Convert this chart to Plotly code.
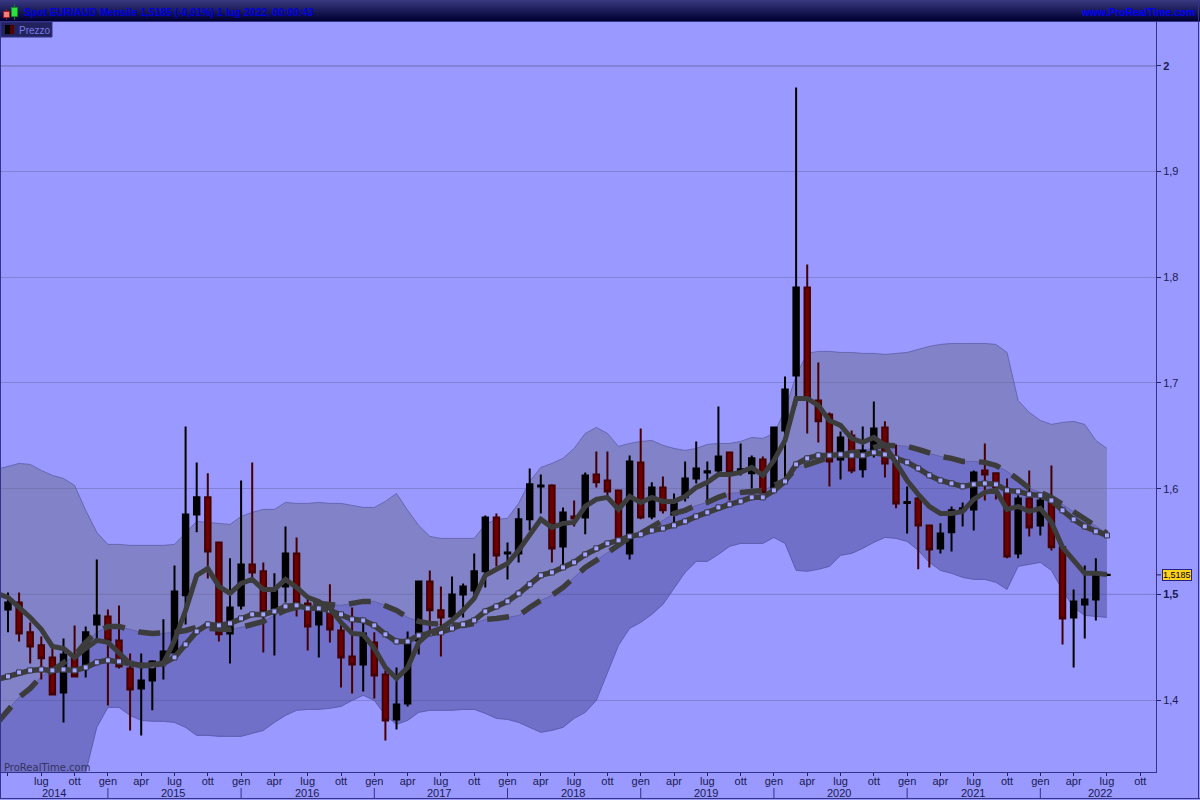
import plotly.graph_objects as go

months = list(range(100))          # 0 = apr 2014 ... 99 = lug 2022
line_months = list(range(-1, 100)) # includes mar 2014 so the lines enter from the left edge

opens = [1.4858,1.4924,1.4641,1.4518,1.4404,1.4073,1.4404,1.4328,1.4716,1.4792,
1.4565,1.4300,1.4111,1.4186,1.4366,1.4451,1.4991,1.5757,1.5918,1.5492,
1.4631,1.4896,1.5284,1.5218,1.4868,1.5076,1.5388,1.4915,1.4716,1.4868,
1.4659,1.4413,1.4338,1.4546,1.4243,1.3817,1.3969,1.4565,1.5123,1.4849,
1.4792,1.5000,1.5038,1.5218,1.5728,1.5388,1.5388,1.5710,1.6022,1.6031,
1.5454,1.5738,1.5728,1.6135,1.6078,1.5984,1.5388,1.6249,1.5738,1.6012,
1.5757,1.5918,1.6097,1.6154,1.6173,1.6343,1.6164,1.6145,1.6277,1.6012,
1.6551,1.7072,1.7904,1.6835,1.6703,1.6277,1.6504,1.6183,1.6362,1.6580,
1.6239,1.5865,1.5908,1.5653,1.5435,1.5587,1.5795,1.5804,1.6173,1.6145,
1.5984,1.5388,1.5908,1.5653,1.5870,1.5445,1.4782,1.4905,1.4953,1.5184]
highs = [1.5019,1.5019,1.4735,1.4603,1.4489,1.4584,1.4707,1.4697,1.5331,1.4858,
1.4896,1.4442,1.4442,1.4376,1.4764,1.5274,1.6589,1.6249,1.6145,1.5501,
1.5341,1.6078,1.6249,1.5303,1.5199,1.5643,1.5539,1.4972,1.4877,1.5095,
1.4726,1.4877,1.4726,1.4641,1.4281,1.4309,1.4650,1.5132,1.5227,1.5076,
1.5170,1.5104,1.5388,1.5747,1.5766,1.5492,1.5814,1.6192,1.6135,1.6041,
1.5823,1.5889,1.6154,1.6353,1.6353,1.5984,1.6315,1.6570,1.6060,1.6116,
1.5955,1.6258,1.6447,1.6258,1.6778,1.6353,1.6428,1.6315,1.6305,1.6589,
1.7062,1.9796,1.8122,1.7195,1.6722,1.6542,1.6551,1.6589,1.6826,1.6637,
1.6419,1.6022,1.5937,1.5662,1.5672,1.5832,1.5870,1.6173,1.6428,1.6154,
1.6097,1.5937,1.6173,1.5918,1.6220,1.5454,1.5047,1.5274,1.5341,1.5186]
lows = [1.4641,1.4555,1.4347,1.4196,1.4045,1.3789,1.4215,1.4215,1.4565,1.3950,
1.4300,1.3713,1.3666,1.3903,1.4196,1.4442,1.4716,1.5587,1.5151,1.4555,
1.4347,1.4858,1.5132,1.4451,1.4423,1.4924,1.4792,1.4470,1.4404,1.4546,
1.4120,1.4063,1.4082,1.4016,1.3619,1.3723,1.3940,1.4432,1.4641,1.4413,
1.4726,1.4782,1.4953,1.5066,1.5265,1.5142,1.5303,1.5605,1.5766,1.5303,
1.5274,1.5643,1.5568,1.6012,1.5937,1.5501,1.5331,1.5710,1.5710,1.5766,
1.5681,1.5880,1.6050,1.5889,1.6145,1.5889,1.6126,1.6003,1.5955,1.5984,
1.6050,1.6788,1.6523,1.6438,1.6022,1.6088,1.6145,1.6107,1.6296,1.6107,
1.5814,1.5577,1.5237,1.5255,1.5388,1.5407,1.5643,1.5605,1.5889,1.5899,
1.5341,1.5341,1.5549,1.5558,1.5416,1.4527,1.4309,1.4584,1.4754,1.5184]
closes = [1.4924,1.4631,1.4508,1.4395,1.4054,1.4432,1.4224,1.4641,1.4801,1.4565,
1.4319,1.4101,1.4186,1.4366,1.4461,1.5028,1.5757,1.5918,1.5407,1.4622,
1.4877,1.5284,1.5208,1.4839,1.5038,1.5388,1.4915,1.4697,1.4868,1.4669,
1.4404,1.4338,1.4631,1.4234,1.3808,1.3959,1.4565,1.5123,1.4849,1.4782,
1.5000,1.5076,1.5218,1.5728,1.5369,1.5397,1.5710,1.6041,1.6031,1.5435,
1.5776,1.5719,1.6126,1.6060,1.5974,1.5511,1.6258,1.5728,1.6012,1.5795,
1.5861,1.6097,1.6192,1.6164,1.6305,1.6154,1.6183,1.6287,1.5965,1.6580,
1.6939,1.7904,1.6854,1.6637,1.6258,1.6485,1.6173,1.6362,1.6570,1.6239,
1.5861,1.5875,1.5653,1.5426,1.5577,1.5795,1.5814,1.6154,1.6135,1.6012,
1.5359,1.5908,1.5634,1.5889,1.5445,1.4773,1.4934,1.4953,1.5180,1.5185]

ma_short = [1.5009,1.4972,1.4877,1.4782,1.4669,1.4508,1.4489,1.4404,1.4489,1.4565,1.4546,
1.4442,1.4347,1.4328,1.4338,1.4347,1.4565,1.4849,1.5180,1.5246,1.5076,
1.5009,1.5104,1.5142,1.5047,1.5047,1.5142,1.5066,1.4972,1.4934,1.4868,
1.4735,1.4631,1.4622,1.4489,1.4309,1.4205,1.4309,1.4546,1.4641,1.4678,
1.4754,1.4849,1.4962,1.5180,1.5237,1.5293,1.5416,1.5558,1.5710,1.5634,
1.5672,1.5681,1.5832,1.5899,1.5918,1.5804,1.5927,1.5870,1.5918,1.5880,
1.5880,1.5927,1.6012,1.6060,1.6135,1.6135,1.6154,1.6201,1.6126,1.6268,
1.6457,1.6854,1.6854,1.6788,1.6646,1.6599,1.6476,1.6438,1.6485,1.6410,
1.6249,1.6078,1.5946,1.5832,1.5766,1.5766,1.5785,1.5899,1.5965,1.5984,
1.5804,1.5832,1.5785,1.5814,1.5681,1.5445,1.5322,1.5199,1.5199,1.5189]
ma_squares = [1.4196,1.4224,1.4262,1.4281,1.4290,1.4281,1.4290,1.4281,1.4309,1.4357,1.4376,
1.4366,1.4347,1.4328,1.4328,1.4347,1.4404,1.4527,1.4650,1.4716,1.4707,
1.4726,1.4773,1.4811,1.4811,1.4839,1.4886,1.4896,1.4868,1.4868,1.4849,
1.4811,1.4764,1.4754,1.4707,1.4622,1.4555,1.4555,1.4612,1.4631,1.4641,
1.4678,1.4716,1.4754,1.4839,1.4886,1.4934,1.5009,1.5095,1.5180,1.5208,
1.5255,1.5303,1.5378,1.5435,1.5482,1.5511,1.5549,1.5568,1.5605,1.5624,
1.5653,1.5691,1.5738,1.5776,1.5823,1.5851,1.5880,1.5918,1.5918,1.5984,
1.6069,1.6230,1.6287,1.6315,1.6315,1.6324,1.6315,1.6315,1.6343,1.6324,
1.6287,1.6249,1.6192,1.6126,1.6078,1.6050,1.6022,1.6041,1.6050,1.6041,
1.5984,1.5974,1.5946,1.5937,1.5889,1.5795,1.5710,1.5643,1.5596,1.5558]
ma_mid = [1.3780,1.3912,1.4026,1.4111,1.4224,1.4281,1.4347,1.4423,1.4546,1.4641,1.4697,
1.4697,1.4669,1.4641,1.4631,1.4631,1.4641,1.4659,1.4688,1.4678,1.4669,
1.4669,1.4688,1.4716,1.4745,1.4801,1.4849,1.4877,1.4896,1.4915,1.4905,
1.4896,1.4915,1.4934,1.4934,1.4896,1.4849,1.4782,1.4745,1.4726,1.4716,
1.4716,1.4707,1.4726,1.4764,1.4773,1.4782,1.4801,1.4877,1.4943,1.4991,
1.5066,1.5161,1.5255,1.5322,1.5397,1.5464,1.5539,1.5577,1.5634,1.5700,
1.5766,1.5795,1.5842,1.5870,1.5918,1.5955,1.5965,1.5974,1.5984,1.6031,
1.6078,1.6192,1.6230,1.6268,1.6296,1.6315,1.6343,1.6353,1.6391,1.6410,
1.6410,1.6400,1.6372,1.6334,1.6305,1.6287,1.6258,1.6258,1.6249,1.6220,
1.6164,1.6088,1.6003,1.5965,1.5918,1.5851,1.5785,1.5710,1.5643,1.5577]
band_upper = [1.6183,1.6211,1.6239,1.6230,1.6173,1.6126,1.6097,1.6031,1.5795,1.5587,1.5473,
1.5473,1.5464,1.5464,1.5464,1.5464,1.5473,1.5587,1.5691,1.5681,1.5672,
1.5662,1.5738,1.5776,1.5804,1.5804,1.5870,1.5861,1.5861,1.5870,1.5861,
1.5861,1.5842,1.5823,1.5823,1.5880,1.5955,1.5795,1.5653,1.5549,1.5530,
1.5530,1.5530,1.5530,1.5662,1.5710,1.5719,1.5861,1.6069,1.6201,1.6239,
1.6287,1.6381,1.6523,1.6580,1.6523,1.6400,1.6428,1.6447,1.6457,1.6410,
1.6381,1.6362,1.6381,1.6419,1.6428,1.6428,1.6447,1.6485,1.6476,1.6523,
1.6741,1.7072,1.7280,1.7299,1.7299,1.7289,1.7289,1.7280,1.7280,1.7270,
1.7280,1.7289,1.7318,1.7346,1.7365,1.7374,1.7374,1.7374,1.7374,1.7365,
1.7289,1.6835,1.6722,1.6646,1.6608,1.6627,1.6637,1.6608,1.6457,1.6381]
band_lower = [1.1348,1.1613,1.1812,1.1992,1.2276,1.2436,1.2597,1.2815,1.3316,1.3742,1.3931,
1.3931,1.3855,1.3808,1.3799,1.3799,1.3789,1.3742,1.3666,1.3666,1.3657,
1.3657,1.3657,1.3685,1.3713,1.3789,1.3855,1.3903,1.3912,1.3912,1.3922,
1.3940,1.3997,1.4045,1.3997,1.3855,1.3770,1.3808,1.3884,1.3903,1.3903,
1.3903,1.3912,1.3912,1.3874,1.3827,1.3817,1.3789,1.3742,1.3695,1.3713,
1.3742,1.3827,1.3884,1.3997,1.4262,1.4518,1.4678,1.4735,1.4811,1.4905,
1.5057,1.5208,1.5312,1.5312,1.5378,1.5454,1.5482,1.5482,1.5482,1.5539,
1.5482,1.5227,1.5218,1.5237,1.5265,1.5369,1.5388,1.5435,1.5492,1.5539,
1.5530,1.5501,1.5416,1.5303,1.5227,1.5199,1.5161,1.5142,1.5142,1.5114,
1.5047,1.5265,1.5284,1.5303,1.5227,1.5038,1.4877,1.4801,1.4792,1.4782]

tick_months = list(range(0, 103, 3))
tick_names = ["apr", "lug", "ott", "gen"]
tick_labels = [""] + [tick_names[i % 4] for i in range(1, len(tick_months))]
years = ["2014", "2015", "2016", "2017", "2018", "2019", "2020", "2021", "2022"]
year_centres = [4.1, 14.85, 26.9, 38.85, 50.9, 62.9, 74.9, 86.9, 98.35]
year_starts = [9, 21, 33, 45, 57, 69, 81, 93]
price_ticks = [1.4, 1.5, 1.6, 1.7, 1.8, 1.9, 2.0]
price_labels = ["1,4", "<b>1,5</b>", "1,6", "1,7", "1,8", "1,9", "<b>2</b>"]
last_price = 1.5185
title_text = "Spot EUR/AUD Mensile 1,5185 (-0,01%) 1 lug 2022, 00:00:43"

W, H = 1200, 800
L, R, T, B = 1, 44, 22, 28
PW, PH = W - L - R, H - T - B
def px(x): return (x - L) / PW
def py(y): return (H - B - y) / PH

BG = "#9999ff"
EDGE = "#33338a"
FONT = "Liberation Sans"
LINE = "#3c3c3c"
INK = "#1a1a50"

fig = go.Figure()
fig.add_trace(go.Scatter(x=line_months, y=ma_mid, mode="lines", line=dict(width=0), hoverinfo="skip"))
fig.add_trace(go.Scatter(x=line_months, y=band_upper, mode="lines", fill="tonexty",
                         fillcolor="rgba(107,107,145,0.5)", line=dict(color="rgba(90,90,160,0.75)", width=1), hoverinfo="skip"))
fig.add_trace(go.Scatter(x=line_months, y=ma_mid, mode="lines", line=dict(color="rgba(90,90,160,0.75)", width=1), hoverinfo="skip"))
fig.add_trace(go.Scatter(x=line_months, y=band_lower, mode="lines", fill="tonexty",
                         fillcolor="rgba(71,71,145,0.5)", line=dict(color="rgba(80,80,160,0.75)", width=1), hoverinfo="skip"))

fig.add_trace(go.Candlestick(x=months, open=opens, high=highs, low=lows, close=closes, yaxis="y2",
                             increasing=dict(line=dict(color="#000000", width=2), fillcolor="#000000"),
                             decreasing=dict(line=dict(color="#440000", width=2), fillcolor="#700000"),
                             hoverinfo="skip", whiskerwidth=0))
fig.add_trace(go.Scatter(x=line_months, y=ma_mid, yaxis="y2", mode="lines",
                         line=dict(color=LINE, width=5.5, dash="22px,14px"), hoverinfo="skip"))
fig.add_trace(go.Scatter(x=line_months, y=ma_squares, yaxis="y2", mode="lines+markers",
                         line=dict(color=LINE, width=5.5),
                         marker=dict(symbol="square", size=5, color="#a4a4ff", line=dict(color="#333344", width=1)),
                         hoverinfo="skip"))
fig.add_trace(go.Scatter(x=line_months, y=ma_short, yaxis="y2", mode="lines",
                         line=dict(color=LINE, width=5), hoverinfo="skip"))

shapes = []
def rect(x0, y0, x1, y1, fill, line=None, width=1):
    shapes.append(dict(type="rect", xref="paper", yref="paper", x0=px(x0), x1=px(x1), y0=py(y1), y1=py(y0),
                       fillcolor=fill, line=dict(color=line or fill, width=width if line else 0), layer="above"))
def hline(x0, x1, y, colour):
    shapes.append(dict(type="line", xref="paper", yref="paper", x0=px(x0), x1=px(x1), y0=py(y), y1=py(y),
                       line=dict(color=colour, width=1), layer="above"))
def vline(x, y0, y1, colour):
    shapes.append(dict(type="line", xref="paper", yref="paper", x0=px(x), x1=px(x), y0=py(y0), y1=py(y1),
                       line=dict(color=colour, width=1), layer="above"))

for r in range(21):
    f = r / 20
    shapes.append(dict(type="rect", xref="paper", yref="paper", x0=px(0), x1=px(W), y0=py(r + 1), y1=py(r),
                       fillcolor=f"rgb({int(56*(1-f))},{int(56*(1-f))},{int(128-78*f)})", line=dict(width=0), layer="above"))
hline(0, W, 21.5, EDGE)
vline(0.5, 22, 799, EDGE)
vline(1198.5, 0, 799, EDGE)
hline(0, W, 798.5, EDGE)
for g in (1.5, 2.0):
    shapes.append(dict(type="line", xref="paper", yref="y", x0=0, x1=1, y0=g, y1=g,
                       line=dict(color="#5f5f95", width=1), layer="below"))
for s in year_starts:
    shapes.append(dict(type="line", xref="x", yref="paper", x0=s, x1=s, y0=py(798), y1=py(788),
                       line=dict(color=EDGE, width=1), layer="above"))
# header icon
vline(6.5, 9, 20, "#a01010"); rect(3.5, 11.5, 9.5, 17.5, "#f08080", "#a02020")
vline(14.5, 4, 20, "#108010"); rect(11.5, 7.5, 17.5, 16.5, "#30e040", "#109020")
# legend chip
rect(1, 22, 52, 37, "#22225e", EDGE)
rect(5, 25, 10, 34, "#000000"); rect(10, 25, 14, 34, "#550000")
# last price tick
shapes.append(dict(type="line", xref="paper", yref="y", x0=1, x1=px(1161), y0=last_price, y1=last_price,
                   line=dict(color="#222266", width=1), layer="above"))

ann = [
    dict(x=px(22), y=py(12.5), text=f"<b>{title_text}</b>", font=dict(family=FONT, size=10.3, color="#0000e0"), xanchor="left"),
    dict(x=px(1197), y=py(12.5), text="<b>www.ProRealTime.com</b>", font=dict(family=FONT, size=10.3, color="#0000ff"), xanchor="right"),
    dict(x=px(16.5), y=py(30), text="Prezzo", font=dict(family=FONT, size=10, color="#7a7ae6"), xanchor="left"),
    dict(x=px(2), y=py(767), text="ProRealTime.com", font=dict(family="DejaVu Sans", size=10, color="#33335f"), xanchor="left"),
    dict(x=px(1162), y=last_price, yref="y", text="1,5185", font=dict(family=FONT, size=9, color="#000000"),
         xanchor="left", bgcolor="#ffd21e", bordercolor="#222288", borderwidth=1, borderpad=0),
]
for a in ann:
    a.setdefault("xref", "paper"); a.setdefault("yref", "paper"); a["showarrow"] = False; a["yanchor"] = "middle"
for name, c in zip(years, year_centres):
    ann.append(dict(x=c, xref="x", y=py(793), yref="paper", text=name, showarrow=False, yanchor="middle",
                    font=dict(family=FONT, size=11, color=INK)))

y_range = [1.3320, 2.0415]
fig.update_layout(
    width=W, height=H, autosize=False, showlegend=False,
    margin=dict(l=L, r=R, t=T, b=B, pad=0),
    paper_bgcolor=BG, plot_bgcolor=BG,
    shapes=shapes, annotations=ann,
    xaxis=dict(type="linear", range=[-0.63, 103.42], rangeslider=dict(visible=False), tickmode="array",
               tickvals=tick_months, ticktext=tick_labels, ticks="outside", ticklen=3, tickcolor="#222266",
               ticklabelstandoff=-4,
               tickfont=dict(family=FONT, size=11, color=INK), showgrid=False, zeroline=False,
               showline=True, linecolor=EDGE, linewidth=1),
    yaxis=dict(side="right", range=y_range, tickmode="array", tickvals=price_ticks, ticktext=price_labels,
               ticks="outside", ticklen=4, tickcolor="#222266",
               tickfont=dict(family=FONT, size=11, color=INK), gridcolor="#8181d6", gridwidth=1,
               zeroline=False, showline=True, linecolor=EDGE, linewidth=1),
    yaxis2=dict(overlaying="y", side="right", range=y_range, visible=False, showgrid=False, zeroline=False),
)

fig.write_html("out.html", config=dict(displayModeBar=False),
               post_script="document.body.style.margin='0';document.documentElement.style.overflow='hidden';")
